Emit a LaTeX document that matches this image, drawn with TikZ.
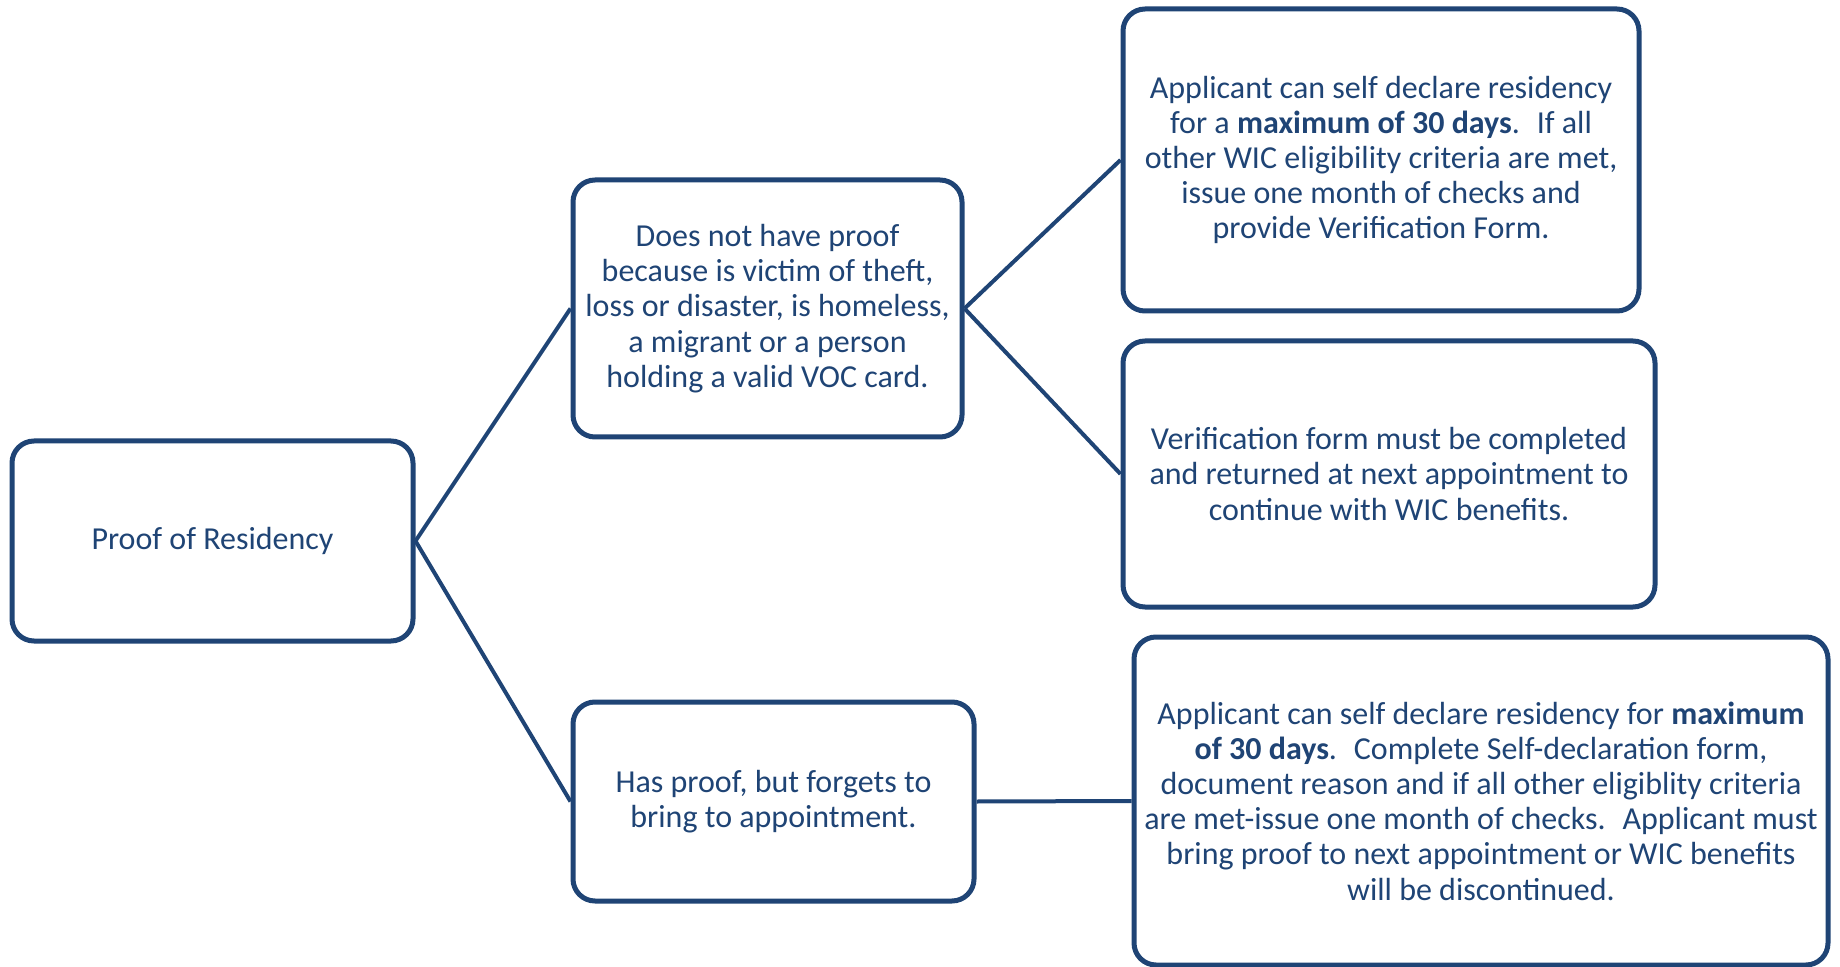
\documentclass[tikz,border=0pt]{standalone}
\usepackage{fontspec}
\setmainfont{Carlito}
\usetikzlibrary{positioning}
\definecolor{wicBlue}{RGB}{31,68,117}

\begin{document}
\begin{tikzpicture}[
			x=0.5pt, y=-0.5pt,
			font=\fontsize{16}{17.6}\selectfont,
			% Node styles
			infoBox/.style={draw=wicBlue, fill=white, line width=2.5pt, rounded corners=11pt, text=wicBlue, align=center, inner sep=0pt},
			% Line styles
			branchLine/.style={draw=wicBlue, line width=2pt}
			]
			
			\useasboundingbox (0,0) rectangle (1840,967);
			
			% =========================================================
			% 1. THE BOXES
			% =========================================================
			
			\node[infoBox, minimum width=200.5pt, minimum height=100pt] (proof) at (212.5, 541) {Proof of Residency};
			
			\node[infoBox, minimum width=194.5pt, minimum height=128.5pt] (noProof) at (767.5, 308.5) {
				Does not have proof\\
				because is victim of theft,\\
				loss or disaster, is homeless,\\
				a migrant or a person\\
				holding a valid VOC card.
			};
			
			\node[infoBox, minimum width=200.5pt, minimum height=99.5pt] (forgot) at (773.5, 801.5) {
				Has proof, but forgets to\\
				bring to appointment.
			};
			
			\node[infoBox, minimum width=258pt, minimum height=151pt] (selfDeclare) at (1381, 160) {
				Applicant can self declare residency\\
				for a \textbf{maximum of 30 days}.~ If all\\
				other WIC eligibility criteria are met,\\
				issue one month of checks and\\
				provide Verification Form.
			};
			
			\node[infoBox, minimum width=266pt, minimum height=133pt] (verifyForm) at (1389, 474) {
				Verification form must be completed\\
				and returned at next appointment to\\
				continue with WIC benefits.
			};
			
			\node[infoBox, minimum width=347pt, minimum height=164pt] (bringProof) at (1481, 801) {
				Applicant can self declare residency for \textbf{maximum}\\
				\textbf{of 30 days}.~ Complete Self-declaration form,\\
				document reason and if all other eligiblity criteria\\
				are met-issue one month of checks.~ Applicant must\\
				bring proof to next appointment or WIC benefits\\
				will be discontinued.
			};
			
			% =========================================================
			% 2. THE BRANCHES
			% =========================================================
			
			\draw[branchLine] (proof.east) -- (noProof.west);
			\draw[branchLine] (proof.east) -- (forgot.west);
			
			\draw[branchLine] (noProof.east) -- (selfDeclare.west);
			\draw[branchLine] (noProof.east) -- (verifyForm.west);
			
			\draw[branchLine] (forgot.east) -- (bringProof.west);
			
		\end{tikzpicture}
\end{document}
